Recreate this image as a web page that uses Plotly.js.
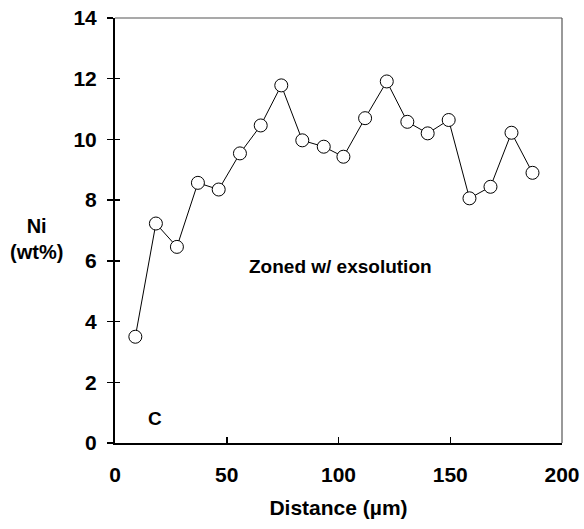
<!DOCTYPE html>
<html>
<head>
<meta charset="utf-8">
<script src="https://cdn.plot.ly/plotly-3.0.1.min.js"></script>
<style>html,body{margin:0;padding:0;background:#fff;}#chart{width:584px;height:529px;}</style>
</head>
<body>
<div id="chart"></div>
<script>
// Data
const distance = [9.1, 18.3, 27.7, 37.1, 46.4, 55.9, 65.2, 74.4, 83.8, 93.4, 102.2, 111.9, 121.6, 130.8, 139.9, 149.3, 158.6, 168.0, 177.4, 186.8];
const niWt = [3.50, 7.23, 6.46, 8.57, 8.35, 9.54, 10.46, 11.78, 9.97, 9.76, 9.43, 10.70, 11.91, 10.58, 10.20, 10.64, 8.06, 8.44, 10.22, 8.90];
const xTicks = [0, 50, 100, 150, 200];
const yTicks = [0, 2, 4, 6, 8, 10, 12, 14];

const FONT = 'Liberation Sans, Arial, sans-serif';

const trace = {
  x: distance, y: niWt, type: 'scatter', mode: 'lines+markers',
  line: {color: '#000', width: 1},
  marker: {symbol: 'circle', size: 13, color: '#fff', line: {color: '#000', width: 1}},
  showlegend: false, hoverinfo: 'skip'
};
const ghost = {x: [0], y: [0], yaxis: 'y2', type: 'scatter', mode: 'markers', marker: {opacity: 0}, showlegend: false, hoverinfo: 'skip'};

const layout = {
  width: 584, height: 529,
  margin: {l: 115, r: 22, t: 18, b: 86},
  paper_bgcolor: '#fff', plot_bgcolor: '#fff',
  font: {family: FONT, color: '#000', size: 18},
  xaxis: {
    range: [0, 200], tickvals: xTicks, ticktext: xTicks.map(String),
    showgrid: false, zeroline: false, showline: true, linecolor: '#000', linewidth: 2,
    ticks: 'inside', ticklen: 6, tickwidth: 1.5, tickcolor: '#000',
    ticklabelstandoff: 12,
    tickfont: {family: FONT, size: 21, color: '#000', weight: 'bold'},
    title: {text: '<b>Distance (µm)</b>', font: {family: FONT, size: 21, color: '#000'}, standoff: 15}
  },
  yaxis: {
    range: [0, 14], tickvals: yTicks, ticktext: yTicks.map(String),
    showgrid: false, zeroline: false, showline: true, linecolor: '#000', linewidth: 2,
    ticks: 'outside', ticklen: 6, tickwidth: 1.5, tickcolor: '#000',
    ticklabelstandoff: 6,
    tickfont: {family: FONT, size: 21, color: '#000', weight: 'bold'}
  },
  yaxis2: {
    overlaying: 'y', range: [0, 14], tickvals: yTicks, showticklabels: false,
    showgrid: false, zeroline: false, showline: false,
    ticks: 'inside', ticklen: 5, tickwidth: 1.5, tickcolor: '#000'
  },
  shapes: [
    {type: 'line', xref: 'paper', yref: 'paper', x0: 0, x1: 1, y0: 1, y1: 1, line: {color: '#555', width: 1.2}},
    {type: 'line', xref: 'paper', yref: 'paper', x0: 1, x1: 1, y0: 0, y1: 1, line: {color: '#555', width: 1.2}}
  ],
  annotations: [
    {text: '<b>Ni<br>(wt%)</b>', xref: 'paper', yref: 'paper', x: -0.175, y: (443 - 239) / 425, xanchor: 'center', yanchor: 'middle', align: 'center', showarrow: false, font: {family: FONT, size: 20, color: '#000'}},
    {text: '<b>Zoned w/ exsolution</b>', xref: 'x', yref: 'y', x: 101, y: 5.8, xanchor: 'center', yanchor: 'middle', showarrow: false, font: {family: FONT, size: 19, color: '#000'}},
    {text: '<b>C</b>', xref: 'x', yref: 'y', x: 18, y: 0.8, xanchor: 'center', yanchor: 'middle', showarrow: false, font: {family: FONT, size: 19, color: '#000'}}
  ]
};

Plotly.newPlot('chart', [ghost, trace], layout, {staticPlot: true, displayModeBar: false});
</script>
</body>
</html>
